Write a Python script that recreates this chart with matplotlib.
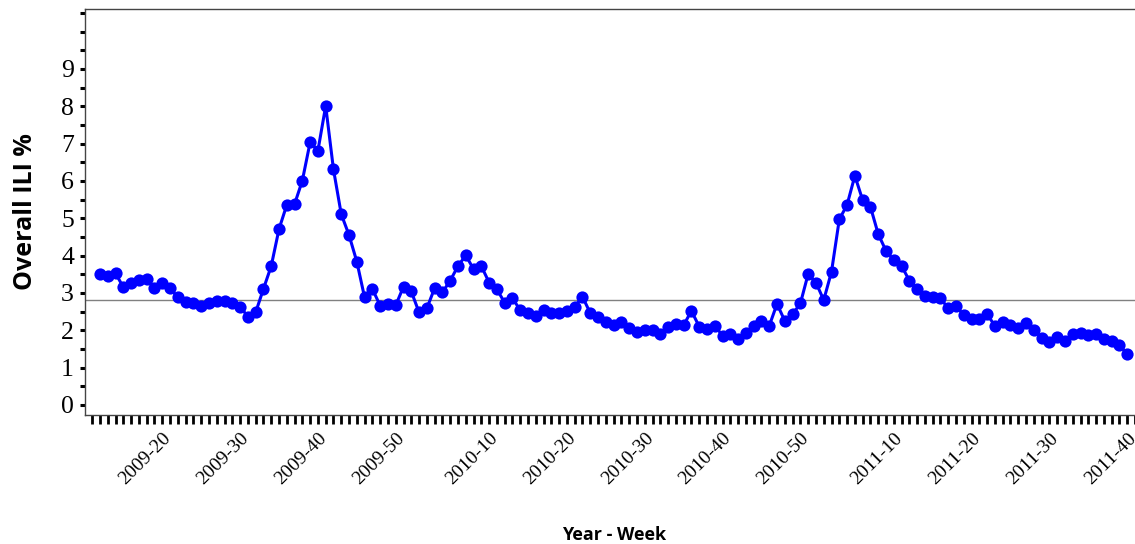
import matplotlib
matplotlib.use("Agg")
import matplotlib.pyplot as plt
from matplotlib.ticker import MultipleLocator, FixedLocator

plt.rcParams["font.family"] = "serif"
plt.rcParams["font.serif"] = ["Liberation Serif", "Nimbus Roman", "DejaVu Serif"]

# ---- data ----
years = [2009, 2010, 2011]
first_week = {2009: 12, 2010: 1, 2011: 1}
last_week = {2009: 52, 2010: 52, 2011: 40}
weeks = [f"{y}-{w:02d}" for y in years for w in range(first_week[y], last_week[y] + 1)]

ili = [
    3.50, 3.46, 3.53, 3.15, 3.28, 3.35, 3.37, 3.13, 3.26, 3.13,
    2.88, 2.77, 2.72, 2.65, 2.72, 2.79, 2.79, 2.74, 2.63, 2.37,
    2.48, 3.11, 3.72, 4.71, 5.36, 5.38, 6.01, 7.04, 6.81, 8.01,
    6.31, 5.11, 4.55, 3.84, 2.88, 3.11, 2.66, 2.70, 2.67, 3.17,
    3.04, 2.48, 2.59, 3.13, 3.02, 3.33, 3.72, 4.01, 3.64, 3.72,
    3.28, 3.10, 2.74, 2.86, 2.54, 2.46, 2.39, 2.54, 2.47, 2.46,
    2.53, 2.63, 2.90, 2.46, 2.35, 2.23, 2.14, 2.21, 2.07, 1.96,
    2.00, 2.02, 1.90, 2.08, 2.17, 2.14, 2.52, 2.10, 2.04, 2.12,
    1.86, 1.90, 1.76, 1.92, 2.12, 2.26, 2.12, 2.71, 2.25, 2.43,
    2.72, 3.51, 3.28, 2.81, 3.57, 4.97, 5.36, 6.14, 5.49, 5.31,
    4.58, 4.13, 3.88, 3.73, 3.33, 3.10, 2.92, 2.90, 2.86, 2.59,
    2.65, 2.41, 2.30, 2.30, 2.43, 2.12, 2.23, 2.14, 2.05, 2.19,
    2.01, 1.80, 1.70, 1.83, 1.72, 1.89, 1.92, 1.88, 1.89, 1.76,
    1.71, 1.61, 1.36,
]

baseline = 2.8

tick_labels = ["2009-20", "2009-30", "2009-40", "2009-50", "2010-10", "2010-20",
               "2010-30", "2010-40", "2010-50", "2011-10", "2011-20", "2011-30",
               "2011-40"]
y_ticks = [0, 1, 2, 3, 4, 5, 6, 7, 8, 9]

# ---- plot ----
fig = plt.figure(figsize=(11.35, 5.44), dpi=100)
ax = fig.add_axes([85 / 1135, (544 - 415) / 544, 1050 / 1135, (415 - 8.5) / 544])

x = list(range(len(weeks)))
ax.axhline(baseline, color="#808080", linewidth=1.0, zorder=1)
ax.plot(x, ili, color="#0000FF", linewidth=2.2, marker="o", markersize=8.8,
        markeredgewidth=0, zorder=3)

ax.set_xlim(-1.93, 133.0)
ax.set_ylim(-0.268, 10.62)

ax.xaxis.set_major_locator(FixedLocator([weeks.index(t) for t in tick_labels]))
ax.set_xticklabels(tick_labels, rotation=45, ha="right", rotation_mode="anchor")
for lab in ax.get_xticklabels():
    lab.set_fontfamily(["Liberation Serif", "DejaVu Serif"])
    lab.set_fontsize(14)
ax.xaxis.set_minor_locator(MultipleLocator(1))
ax.tick_params(axis="x", which="both", length=6.5, width=2.0, color="black",
               direction="out", pad=4)

ax.set_yticks(y_ticks)
ax.set_yticklabels([str(v) for v in y_ticks])
for lab in ax.get_yticklabels():
    lab.set_fontfamily(["Liberation Serif", "DejaVu Serif"])
    lab.set_fontsize(18.5)
ax.yaxis.set_minor_locator(MultipleLocator(0.5))
ax.tick_params(axis="y", which="both", length=3.5, width=2.2, color="black",
               direction="out", pad=4.5)

for side in ["left", "bottom", "top"]:
    ax.spines[side].set_color("#444444")
    ax.spines[side].set_linewidth(1.0)
ax.spines["right"].set_visible(False)

ax.set_xlabel("Year - Week", fontfamily=["Open Sans", "DejaVu Sans"],
              fontweight="bold", fontsize=13)
ax.xaxis.set_label_coords(0.504, -0.274)
ax.set_ylabel("Overall ILI %", fontfamily=["Open Sans", "DejaVu Sans"],
              fontweight="bold", fontsize=18)
ax.yaxis.set_label_coords(-0.045, 0.5)

fig.savefig("out.png", dpi=100)
